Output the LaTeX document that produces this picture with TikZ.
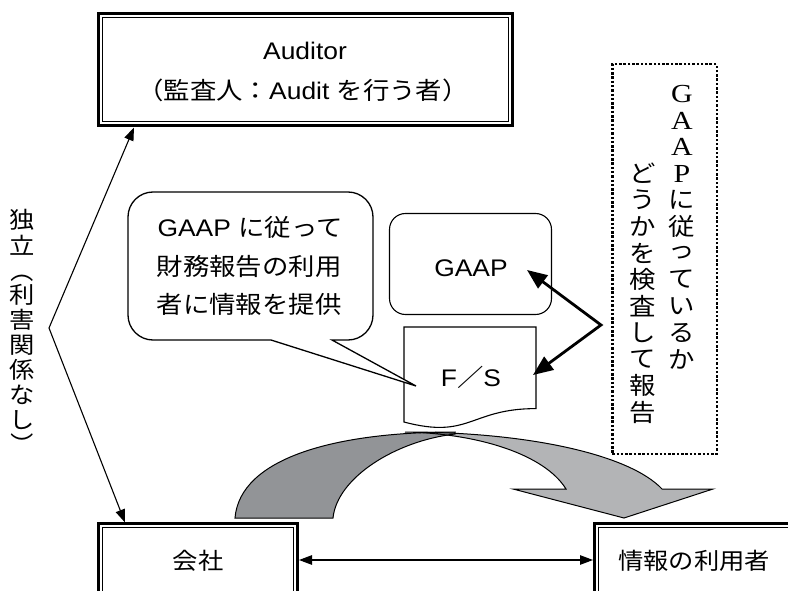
\documentclass[tikz,border=0pt]{standalone}
\usepackage{fontspec}
\setmainfont[FakeStretch=1.1]{Liberation Sans}
\newfontfamily\jp[FakeStretch=1.1]{Noto Sans CJK JP}
\newfontfamily\serifL[FakeStretch=1.15]{Liberation Serif}
\usetikzlibrary{arrows.meta}
\definecolor{darkband}{RGB}{146,148,151}
\definecolor{lightband}{RGB}{179,180,182}
\begin{document}
\begin{tikzpicture}[x=1pt,y=-1pt,line join=miter,
  conn/.style={line width=1.1pt},
  thinhead/.style={arrows={Triangle[length=13pt,width=9.5pt]-Triangle[length=13pt,width=9.5pt]}},
  thickhead/.style={arrows={Triangle[length=20pt,width=16pt]-Triangle[length=20pt,width=16pt]}},
  frame/.style={draw,line width=3pt,inner sep=0pt},
  innerline/.style={line width=1.4pt},
  lbl/.style={inner sep=0pt,font=\fontsize{24}{28}\selectfont},
  jplbl/.style={inner sep=0pt,font=\jp\fontsize{23}{28}\selectfont},
  vjp/.style={inner sep=0pt,font=\jp\fontsize{24}{24}\selectfont},
  vlat/.style={inner sep=0pt,font=\serifL\fontsize{26}{26}\selectfont},
  vjpL/.style={inner sep=0pt,font=\jp\fontsize{23}{24}\selectfont}]
\clip (0,0) rectangle (788,591);
\fill[white] (0,0) rectangle (788,591);

% curved arrow
\fill[lightband] (405,432) .. controls (530,432) and (630,455) .. (662,489) -- (713,489) -- (624,518) -- (513,489) -- (566,489) .. controls (545,455) and (480,433.5) .. (405,432) -- cycle;
\fill[darkband] (235,518) .. controls (240,458) and (335,432) .. (455,432) -- (455,434) .. controls (395,441) and (337,478) .. (333,518) -- cycle;
\draw[line width=1pt] (405,432) .. controls (530,432) and (630,455) .. (662,489) -- (713,489) -- (624,518) -- (513,489) -- (566,489) .. controls (545,455) and (480,433.5) .. (405,432);
\draw[line width=1pt] (235,518) .. controls (240,458) and (335,432) .. (455,432) -- (455,434) .. controls (395,441) and (337,478) .. (333,518) -- cycle;

% Auditor box
\node[frame,minimum width=414pt,minimum height=112pt] (auditor) at (305.5,69.5) {};
\draw[innerline] ([xshift=5.75pt,yshift=-5.75pt]auditor.north west) rectangle ([xshift=-5.75pt,yshift=5.75pt]auditor.south east);
\node[lbl] (audA) at (305,51) {Auditor};
\node[lbl] (audB) at (303,90) {{\jp （監査人：}Audit {\jp を行う者）}};

% F/S document
\filldraw[fill=white,line width=1.1pt] (404,327) -- (536,327) -- (536,408.6) .. controls (470,408.6) and (470,439.6) .. (404,422) -- cycle;
\node[lbl] (fs) at (471,377.5) {F{\jp ／}S};

% speech bubble
\coordinate (btip) at (416,386);
\filldraw[fill=white,line width=1.3pt] (153,192) -- (348,192) .. controls (361.8,192) and (373,203.2) .. (373,217) -- (373,315) .. controls (373,328.8) and (361.8,340) .. (348,340) -- (332,340) -- (btip) -- (271,340) -- (153,340) .. controls (139.2,340) and (128,328.8) .. (128,315) -- (128,217) .. controls (128,203.2) and (139.2,192) .. (153,192) -- cycle;
\node[lbl] (b1) at (250,227) {GAAP {\jp に従って}};
\node[jplbl,font=\jp\fontsize{24}{28}\selectfont] (b2) at (249,266) {財務報告の利用};
\node[jplbl,font=\jp\fontsize{24}{28}\selectfont] (b3) at (249,304) {者に情報を提供};

% GAAP box
\node[draw,line width=1.1pt,rounded corners=16pt,minimum width=162pt,minimum height=101pt,inner sep=0pt] (gaapbox) at (470.5,264) {};
\node[lbl] (gaaptext) at (471,268.5) {GAAP};

% thick double arrow
\coordinate (gtip) at (527,270);
\coordinate (apex) at (601,325);
\coordinate (ftip) at (533,375);
\draw[line width=2.8pt,thickhead] (gtip) -- (apex) -- (ftip);

% dotted box with vertical text
\node[draw,line width=2.5pt,dash pattern=on 2.5pt off 1.8pt,minimum width=104.5pt,minimum height=389.5pt,inner sep=0pt] (checkbox) at (664.5,259) {};
\foreach \ch [count=\i] in {G,A,A,P}
  \node[vlat] (RL\i) at (682,{94+26.5*(\i-1)}) {\ch};
\foreach \ch [count=\i from 5] in {に,従,っ,て,い,る,か}
  \node[vjp] (R\i) at (682,{94+26.5*(\i-1)}) {\ch};
\foreach \ch [count=\i] in {ど,う,か,を,検,査,し,て,報,告}
  \node[vjp] (V\i) at (643,{173.5+26.5*(\i-1)}) {\ch};

% left vertical text
\foreach \ch/\rot [count=\i] in {独/0,立/0,（/-90,利/0,害/0,関/0,係/0,な/0,し/0,）/-90}
  \node[vjpL,rotate=\rot] (L\i) at (22,{220+25*(\i-1)}) {\ch};

% bottom boxes
\node[frame,minimum width=199pt,minimum height=116.5pt] (kaisha) at (198,581.75) {};
\draw[innerline] ([xshift=5.75pt,yshift=-5.75pt]kaisha.north west) rectangle ([xshift=-5.75pt,yshift=5.75pt]kaisha.south east);
\node[jplbl] (kaishatext) at (198,561) {会社};
\node[frame,minimum width=225.5pt,minimum height=116.5pt] (joho) at (707.25,581.75) {};
\draw[innerline] ([xshift=5.75pt,yshift=-5.75pt]joho.north west) rectangle ([xshift=-5.75pt,yshift=5.75pt]joho.south east);
\node[jplbl] (johotext) at (694,561) {情報の利用者};

% connectors
\coordinate (audfoot) at (134,127.5);
\coordinate (lapex) at (49,328);
\coordinate (kaifoot) at (125,522.5);
\draw[conn,thinhead] (audfoot) -- (lapex) -- (kaifoot);
\coordinate (hline) at (450,560);
\draw[conn,thinhead] (kaisha.east |- hline) -- (joho.west |- hline);
\end{tikzpicture}
\end{document}
